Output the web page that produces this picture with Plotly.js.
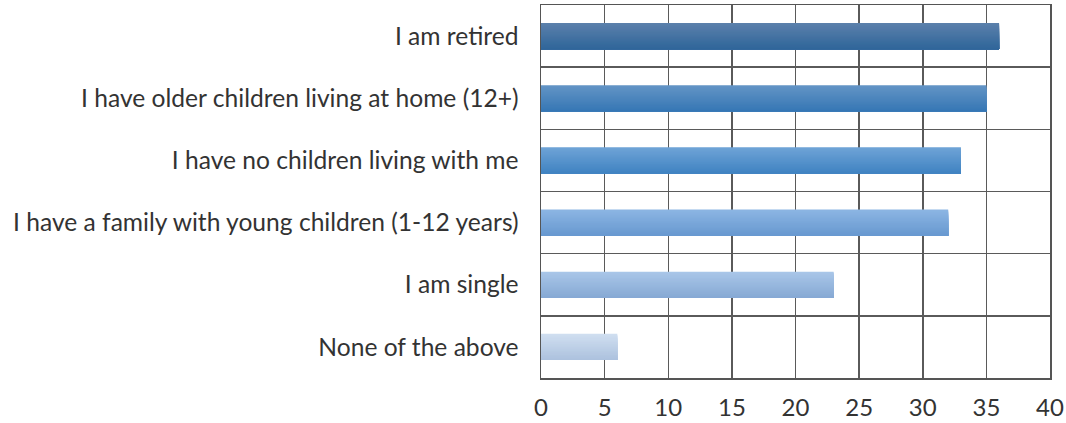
<!DOCTYPE html>
<html>
<head>
<meta charset="utf-8">
<script src="https://cdn.plot.ly/plotly-3.0.1.min.js"></script>
<style>html,body{margin:0;padding:0;background:#fff;}#chart{width:1066px;height:423px;}</style>
</head>
<body>
<div id="chart"></div>
<script>
// Data (top to bottom)
const categories = [
  "I am retired",
  "I have older children living at home (12+)",
  "I have no children living with me",
  "I have a family with young children (1-12 years)",
  "I am single",
  "None of the above"
];
const values = [36, 35, 33, 32, 23, 6];
const xTicks = [0, 5, 10, 15, 20, 25, 30, 35, 40];

// Style: gradient top / bottom colours per bar
const topColors = ["#5b80ab", "#6394c5", "#6ea3d6", "#8cb5e3", "#a9c6e8", "#cfdef0"];
const bottomColors = ["#30669a", "#3677b5", "#4083c2", "#6899d0", "#86a9d4", "#adc2de"];

function hex2rgb(h){return [parseInt(h.slice(1,3),16),parseInt(h.slice(3,5),16),parseInt(h.slice(5,7),16)];}
function mix(a,b,t){const A=hex2rgb(a),B=hex2rgb(b);return 'rgb('+A.map((v,i)=>Math.round(v+(B[i]-v)*t)).join(',')+')';}

const barWidth = 0.42;
const nSlices = 24;
const slice = barWidth / nSlices;
const traces = [];
for (let s = 0; s < nSlices; s++) {
  const t = s / (nSlices - 1);
  traces.push({
    type: 'bar',
    orientation: 'h',
    y: categories,
    x: values,
    width: barWidth - s * slice,
    offset: -barWidth / 2 + s * slice,
    marker: {color: categories.map((c, i) => mix(topColors[i], bottomColors[i], t)), line: {width: 0}},
    hoverinfo: 'x+y',
    showlegend: false
  });
}

const layout = {
  width: 1066,
  height: 423,
  margin: {l: 541, r: 16, t: 5, b: 45},
  paper_bgcolor: '#ffffff',
  plot_bgcolor: '#ffffff',
  barmode: 'overlay',
  font: {family: 'Lato, "Open Sans", sans-serif', size: 24, color: '#333333'},
  xaxis: {
    range: [0, 40],
    tickvals: xTicks,
    ticktext: xTicks.map(String),
    showgrid: true,
    gridcolor: '#5a5a5a',
    gridwidth: 1.5,
    zeroline: false,
    showline: true,
    linecolor: '#555555',
    linewidth: 1.5,
    mirror: true,
    ticks: '',
    ticklabelstandoff: 8,
    tickfont: {size: 24, color: '#333333'}
  },
  yaxis: {
    type: 'category',
    autorange: 'reversed',
    tickson: 'boundaries',
    showgrid: true,
    gridcolor: '#5a5a5a',
    gridwidth: 1.5,
    zeroline: false,
    showline: true,
    linecolor: '#555555',
    linewidth: 1.5,
    mirror: true,
    ticks: '',
    ticklabelstandoff: 16,
    tickfont: {size: 24.6, color: '#333333'}
  }
};

Plotly.newPlot('chart', traces, layout, {displayModeBar: false, staticPlot: true});
</script>
</body>
</html>
